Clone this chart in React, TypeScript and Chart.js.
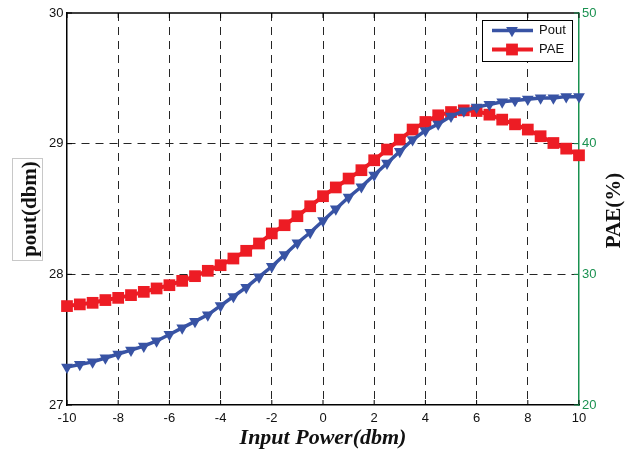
import React, { useEffect, useRef } from "react";
import { Chart, registerables } from "chart.js";

Chart.register(...registerables);

const inputPower = [
  -10, -9.5, -9, -8.5, -8, -7.5, -7, -6.5, -6, -5.5, -5, -4.5, -4, -3.5, -3, -2.5, -2, -1.5, -1, -0.5,
  0, 0.5, 1, 1.5, 2, 2.5, 3, 3.5, 4, 4.5, 5, 5.5, 6, 6.5, 7, 7.5, 8, 8.5, 9, 9.5, 10,
];
const poutDbm = [
  27.29, 27.31, 27.33, 27.36, 27.39, 27.42, 27.45, 27.49, 27.54, 27.59, 27.64, 27.69, 27.76, 27.83,
  27.9, 27.98, 28.06, 28.15, 28.24, 28.32, 28.41, 28.5, 28.59, 28.67, 28.76, 28.85, 28.94, 29.03,
  29.1, 29.15, 29.21, 29.25, 29.28, 29.3, 29.32, 29.33, 29.34, 29.35, 29.35, 29.36, 29.36,
];
const paePercent = [
  27.57, 27.7, 27.82, 28.03, 28.2, 28.41, 28.66, 28.92, 29.17, 29.5, 29.86, 30.27, 30.7, 31.21,
  31.8, 32.36, 33.13, 33.76, 34.45, 35.21, 35.98, 36.65, 37.33, 37.97, 38.73, 39.55, 40.31, 41.08,
  41.66, 42.17, 42.42, 42.55, 42.5, 42.22, 41.84, 41.48, 41.08, 40.57, 40.05, 39.62, 39.11,
];
const xTicks = [-10, -8, -6, -4, -2, 0, 2, 4, 6, 8, 10];
const leftTicks = [27, 28, 29, 30];
const rightTicks = [20, 30, 40, 50];
const seriesNames = ["Pout", "PAE"];
const xTitle = "Input Power(dbm)";
const leftTitle = "pout(dbm)";
const rightTitle = "PAE(%)";

const BLUE = "#3853a4";
const RED = "#ed1c24";
const GREEN = "#1a9150";
const GRID = "#262626";
const SANS = '"Liberation Sans", Arial, Helvetica, sans-serif';
const SERIF = '"Liberation Serif", "Times New Roman", serif';

function drawTriangleDown(ctx: CanvasRenderingContext2D, x: number, y: number, r: number) {
  ctx.beginPath();
  ctx.moveTo(x, y + r);
  ctx.lineTo(x - r * Math.sin((2 * Math.PI) / 3), y - r / 2);
  ctx.lineTo(x + r * Math.sin((2 * Math.PI) / 3), y - r / 2);
  ctx.closePath();
  ctx.fill();
}

const decorPlugin = {
  id: "decor",
  afterDraw(chart: any) {
    const ctx: CanvasRenderingContext2D = chart.ctx;
    const ca = chart.chartArea;
    const xs = chart.scales.x;
    const yl = chart.scales.yL;
    const yr = chart.scales.yR;
    ctx.save();
    // top border
    ctx.strokeStyle = "#000";
    ctx.lineWidth = 1.5;
    ctx.beginPath();
    ctx.moveTo(ca.left, ca.top);
    ctx.lineTo(ca.right, ca.top);
    ctx.stroke();
    // inward ticks
    ctx.lineWidth = 1;
    const tl = 5;
    xTicks.forEach((v) => {
      const px = xs.getPixelForValue(v);
      ctx.strokeStyle = "#000";
      ctx.beginPath();
      ctx.moveTo(px, ca.bottom);
      ctx.lineTo(px, ca.bottom - tl);
      ctx.moveTo(px, ca.top);
      ctx.lineTo(px, ca.top + tl);
      ctx.stroke();
    });
    leftTicks.forEach((v) => {
      const py = yl.getPixelForValue(v);
      ctx.strokeStyle = "#000";
      ctx.beginPath();
      ctx.moveTo(ca.left, py);
      ctx.lineTo(ca.left + tl, py);
      ctx.stroke();
    });
    rightTicks.forEach((v) => {
      const py = yr.getPixelForValue(v);
      ctx.strokeStyle = GREEN;
      ctx.beginPath();
      ctx.moveTo(ca.right, py);
      ctx.lineTo(ca.right - tl, py);
      ctx.stroke();
    });

    // legend
    const lx = 482.5, ly = 20.5, lw = 90, lh = 41;
    ctx.fillStyle = "#fff";
    ctx.fillRect(lx, ly, lw, lh);
    ctx.strokeStyle = "#000";
    ctx.lineWidth = 1;
    ctx.strokeRect(lx, ly, lw, lh);
    const rows = [
      { y: 30.5, color: BLUE, name: seriesNames[0], width: 3.5 },
      { y: 49.5, color: RED, name: seriesNames[1], width: 4 },
    ];
    rows.forEach((r, i) => {
      ctx.strokeStyle = r.color;
      ctx.lineWidth = r.width;
      ctx.beginPath();
      ctx.moveTo(492, r.y);
      ctx.lineTo(533, r.y);
      ctx.stroke();
      ctx.fillStyle = r.color;
      if (i === 0) drawTriangleDown(ctx, 512, r.y, 6.8);
      else ctx.fillRect(512 - 5.9, r.y - 5.9, 11.8, 11.8);
      ctx.fillStyle = "#111";
      ctx.font = `13px ${SANS}`;
      ctx.textAlign = "left";
      ctx.textBaseline = "middle";
      ctx.fillText(r.name, 539, r.y);
    });

    // axis titles
    ctx.fillStyle = "#111";
    ctx.font = `bold italic 22px ${SERIF}`;
    ctx.textAlign = "center";
    ctx.textBaseline = "alphabetic";
    ctx.fillText(xTitle, (ca.left + ca.right) / 2, 444);

    // left title with light box
    ctx.strokeStyle = "#c8c8c8";
    ctx.lineWidth = 1;
    ctx.strokeRect(12.5, 158.5, 30, 102);
    ctx.save();
    ctx.translate(35.5, 209);
    ctx.rotate(-Math.PI / 2);
    ctx.font = `bold 21px ${SERIF}`;
    ctx.textAlign = "center";
    ctx.textBaseline = "alphabetic";
    ctx.fillStyle = "#111";
    ctx.fillText(leftTitle, 0, 0);
    ctx.restore();

    ctx.save();
    ctx.translate(619.5, 210.5);
    ctx.rotate(-Math.PI / 2);
    ctx.font = `bold 21px ${SERIF}`;
    ctx.textAlign = "center";
    ctx.textBaseline = "alphabetic";
    ctx.fillStyle = "#111";
    ctx.fillText(rightTitle, 0, 0);
    ctx.restore();

    ctx.restore();
  },
};

export default function App() {
  const ref = useRef<HTMLCanvasElement>(null);
  useEffect(() => {
    if (!ref.current) return;
    const gridColorX = (c: any) =>
      c.tick && (c.tick.value === xTicks[0] || c.tick.value === xTicks[xTicks.length - 1])
        ? "rgba(0,0,0,0)"
        : GRID;
    const gridColorY = (c: any) =>
      c.tick && (c.tick.value === leftTicks[0] || c.tick.value === leftTicks[leftTicks.length - 1])
        ? "rgba(0,0,0,0)"
        : GRID;
    const chart = new Chart(ref.current, {
      type: "line",
      data: {
        datasets: [
          {
            label: seriesNames[0],
            data: inputPower.map((x, i) => ({ x, y: poutDbm[i] })),
            xAxisID: "x",
            yAxisID: "yL",
            borderColor: BLUE,
            backgroundColor: BLUE,
            borderWidth: 3.5,
            pointStyle: "triangle",
            rotation: 180,
            pointRadius: 6.8,
            pointBorderWidth: 0,
            pointBackgroundColor: BLUE,
            tension: 0,
            clip: false as any,
          },
          {
            label: seriesNames[1],
            data: inputPower.map((x, i) => ({ x, y: paePercent[i] })),
            xAxisID: "x",
            yAxisID: "yR",
            borderColor: RED,
            backgroundColor: RED,
            borderWidth: 4,
            pointStyle: "rect",
            pointRadius: 8.3,
            pointBorderWidth: 0,
            pointBackgroundColor: RED,
            tension: 0,
            clip: false as any,
          },
        ],
      },
      options: {
        responsive: false,
        animation: false,
        devicePixelRatio: 1,
        layout: { padding: { top: 13, left: 0, right: 0, bottom: 0 } },
        plugins: { legend: { display: false }, tooltip: { enabled: false } },
        scales: {
          x: {
            type: "linear",
            position: "bottom",
            min: -10,
            max: 10,
            afterBuildTicks: (s: any) => {
              s.ticks = xTicks.map((v) => ({ value: v }));
            },
            afterFit: (s: any) => {
              s.height = 46;
            },
            grid: { color: gridColorX, lineWidth: 1, drawTicks: false },
            border: { color: "#000", width: 1.5, dash: [8, 6] },
            ticks: {
              color: "#111",
              font: { family: SANS, size: 13 },
              padding: 6,
              maxRotation: 0,
              autoSkip: false,
            },
          },
          yL: {
            type: "linear",
            position: "left",
            min: 27,
            max: 30,
            afterBuildTicks: (s: any) => {
              s.ticks = leftTicks.map((v) => ({ value: v }));
            },
            afterFit: (s: any) => {
              s.width = 67;
            },
            grid: { color: gridColorY, lineWidth: 1, drawTicks: false },
            border: { color: "#000", width: 1.5, dash: [8, 6] },
            ticks: { color: "#111", font: { family: SANS, size: 13 }, padding: 3.5 },
          },
          yR: {
            type: "linear",
            position: "right",
            min: 20,
            max: 50,
            afterBuildTicks: (s: any) => {
              s.ticks = rightTicks.map((v) => ({ value: v }));
            },
            afterFit: (s: any) => {
              s.width = 64;
            },
            grid: { drawOnChartArea: false, drawTicks: false },
            border: { color: GREEN, width: 1.5 },
            ticks: { color: GREEN, font: { family: SANS, size: 13 }, padding: 3 },
          },
        },
      } as any,
      plugins: [decorPlugin],
    });
    return () => chart.destroy();
  }, []);
  return (
    <div style={{ position: "absolute", left: 0, top: 0, width: 643, height: 451, background: "#fff" }}>
      <canvas ref={ref} width={643} height={451} style={{ display: "block", width: 643, height: 451 }} />
    </div>
  );
}
